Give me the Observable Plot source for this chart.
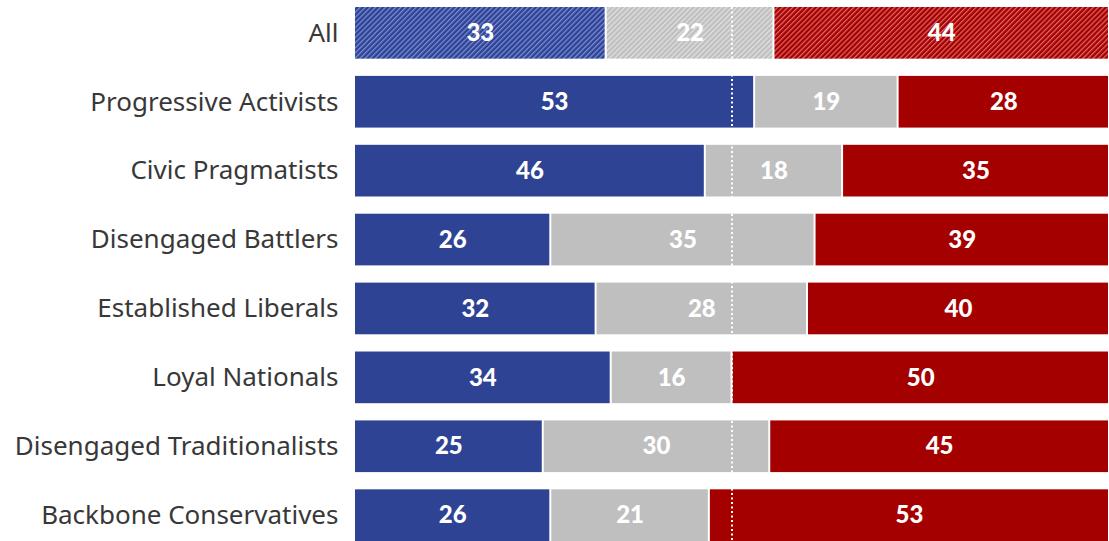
<!DOCTYPE html>
<html><head><meta charset="utf-8">
<script src="https://cdn.jsdelivr.net/npm/d3@7"></script>
<script src="https://cdn.jsdelivr.net/npm/@observablehq/plot@0.6"></script>
<style>body{margin:0;background:#fff;}</style>
</head><body><div id="chart"></div>
<script>
const groups = ["All","Progressive Activists","Civic Pragmatists","Disengaged Battlers","Established Liberals","Loyal Nationals","Disengaged Traditionalists","Backbone Conservatives"];
const seriesKeys = ["left","neither","right"];
const leftValues = [33,53,46,26,32,34,25,26];
const neitherValues = [22,19,18,35,28,16,30,21];
const rightValues = [44,28,35,39,40,50,45,53];
const colors = {left:"#2f4394", neither:"#bfbfbf", right:"#a50000"};
const stripes = {left:"#7d8fd6", neither:"#e2e2e2", right:"#e06a6a"};

const rows = [];
groups.forEach((g,i)=>{
  rows.push({group:g, key:"left", value:leftValues[i]});
  rows.push({group:g, key:"neither", value:neitherValues[i]});
  rows.push({group:g, key:"right", value:rightValues[i]});
});
const fillOf = d => d.group === "All" ? `url(#hatch-${d.key})` : colors[d.key];

const chart = Plot.plot({
  width: 1109, height: 541,
  marginLeft: 354, marginRight: 0, marginTop: 7, marginBottom: 0,
  style: {fontFamily: "'Noto Sans', sans-serif", background: "#fff"},
  x: {axis: null, domain: [0,1]},
  y: {domain: groups, paddingInner: 0.25, paddingOuter: 0, round: false, axis: null},
  color: {type: "identity"},
  marks: [
    Plot.barX(rows, Plot.stackX({offset:"normalize", order: seriesKeys, y:"group", x:"value", z:"key", fill: fillOf, insetLeft:1, insetRight:1})),
    Plot.ruleX([0.5], {stroke:"#fff", strokeWidth:2, strokeDasharray:"2,2.5"}),
    Plot.text(rows, Plot.stackX({offset:"normalize", order: seriesKeys, y:"group", x:"value", z:"key", text: d=>String(d.value), fill:"#fff", fontSize:24, fontWeight:900, fontFamily:"Lato, sans-serif"})),
    Plot.axisY({tickSize:0, tickPadding:16, fontSize:26, color:"#383838", label:null, fontFamily:"'Noto Sans', sans-serif"})
  ]
});

const defs = d3.select(chart).insert("defs", ":first-child");
seriesKeys.forEach(k=>{
  const p = defs.append("pattern").attr("id", `hatch-${k}`).attr("patternUnits","userSpaceOnUse")
    .attr("width",3.6).attr("height",3.6).attr("patternTransform","rotate(45)");
  p.append("rect").attr("width",3.6).attr("height",3.6).attr("fill",colors[k]);
  p.append("line").attr("x1",0.6).attr("y1",0).attr("x2",0.6).attr("y2",3.6).attr("stroke",stripes[k]).attr("stroke-width",1.2);
});
document.getElementById("chart").appendChild(chart);
</script>
</body></html>
